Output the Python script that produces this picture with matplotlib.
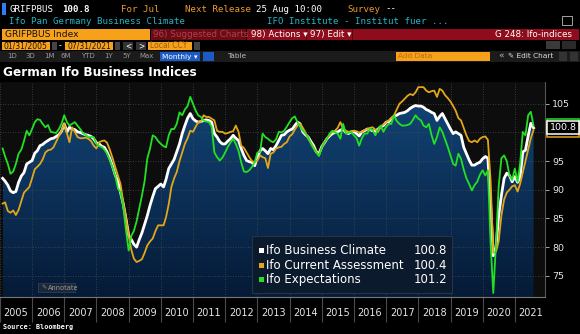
import numpy as np
import pandas as pd
import matplotlib
matplotlib.use("Agg")
import matplotlib.pyplot as plt
import matplotlib.dates as mdates
import matplotlib.transforms as mtransforms
from matplotlib.patches import Rectangle
from matplotlib.colors import LinearSegmentedColormap

# monthly values, Jan 2005 .. Jul 2021
climate = [
    92.0, 91.5, 90.8, 89.8, 89.5, 89.7, 91.3, 92.4, 93.0, 94.5, 94.8, 95.1,
    96.4, 96.8, 97.7, 97.9, 98.3, 98.6, 98.9, 99.0, 99.3, 99.6, 100.2, 101.5,
    100.1, 100.9, 100.6, 100.5, 100.1, 100.0, 99.8, 99.6, 99.5, 99.3, 98.9, 98.2,
    98.0, 97.6, 97.4, 96.6, 95.5, 94.2, 92.6, 91.5, 89.5, 87.5, 85.0, 82.0,
    81.3, 80.5, 80.0, 81.3, 82.5, 84.0, 85.5, 87.3, 88.8, 90.2, 90.6, 91.0,
    90.5, 91.8, 93.7, 94.5, 95.3, 96.6, 98.0, 99.8, 101.2, 102.5, 103.3, 102.4,
    102.0, 101.8, 101.9, 102.1, 102.2, 102.1, 101.8, 99.8, 99.2, 98.4, 98.0, 98.0,
    98.5, 98.9, 99.5, 99.0, 98.6, 97.2, 96.0, 95.1, 94.9, 94.8, 94.2, 95.7,
    96.8, 97.2, 96.8, 96.3, 97.2, 97.0, 97.7, 98.6, 99.5, 99.6, 100.1, 100.4,
    100.6, 101.2, 101.8, 101.5, 100.1, 99.6, 99.2, 98.4, 97.7, 96.6, 96.3, 97.5,
    98.2, 98.9, 99.4, 99.8, 100.0, 100.1, 100.4, 100.6, 100.0, 99.8, 100.1, 100.2,
    99.8, 99.4, 100.1, 100.3, 100.6, 100.5, 100.3, 100.2, 100.6, 101.0, 101.2, 101.8,
    101.9, 102.4, 102.8, 103.0, 103.3, 103.4, 103.5, 103.8, 104.2, 104.5, 104.7, 104.6,
    104.6, 104.4, 104.0, 103.8, 103.5, 103.3, 102.1, 102.8, 103.3, 102.4, 101.5, 100.6,
    99.8, 100.1, 99.8, 99.5, 97.4, 96.3, 95.2, 94.3, 94.3, 94.6, 94.8, 95.4,
    95.8, 95.5, 87.5, 78.5, 80.0, 85.5, 89.0, 92.0, 92.9, 92.5, 91.4, 92.3,
    91.3, 92.2, 96.6, 96.9, 99.4, 101.6, 100.8,
]
current = [
    87.6, 87.8, 86.3, 86.0, 86.4, 85.6, 86.5, 88.0, 89.5, 90.0, 90.5, 92.0,
    93.6, 94.0, 94.5, 95.3, 96.5, 96.9, 97.0, 97.4, 98.4, 99.4, 100.3, 101.5,
    99.8, 98.3, 100.9, 100.1, 99.2, 99.0, 99.0, 99.1, 98.9, 98.5, 97.7, 97.2,
    98.3, 98.5, 98.6, 98.2, 97.0, 95.6, 94.0, 92.5, 91.0, 87.8, 85.2, 82.0,
    79.5, 78.0, 77.4, 77.6, 77.9, 79.0, 80.3, 81.0, 81.5, 82.8, 83.8, 83.8,
    83.8, 85.2, 87.5, 90.5, 92.0, 93.1, 95.0, 96.5, 98.0, 99.0, 100.3, 100.1,
    101.0, 101.8, 101.8, 103.0, 102.7, 102.7, 102.4, 102.1, 100.3, 100.1, 100.1, 99.8,
    99.9, 100.1, 100.2, 101.2, 100.1, 97.7, 97.3, 96.5, 95.7, 95.0, 94.8, 95.1,
    96.0, 95.7, 95.5, 93.8, 96.3, 96.5, 97.2, 97.4, 97.5, 98.0, 98.3, 99.3,
    99.7, 100.5, 101.2, 101.5, 100.8, 100.0, 98.9, 98.2, 97.4, 96.6, 96.0, 97.3,
    98.3, 99.0, 99.5, 100.1, 100.3, 100.8, 101.8, 100.6, 100.3, 100.1, 100.2, 100.3,
    100.2, 100.0, 100.1, 100.4, 100.6, 100.8, 100.9, 100.5, 100.1, 101.0, 101.4, 101.8,
    102.1, 102.5, 103.0, 104.0, 105.0, 105.4, 105.9, 106.4, 106.7, 106.5, 107.0, 107.9,
    107.9, 107.9, 107.3, 107.0, 107.2, 107.3, 106.2, 107.6, 107.3, 106.5, 106.0, 105.4,
    104.6, 103.8, 102.5, 102.1, 100.8, 99.5, 98.5, 98.3, 98.6, 98.3, 98.9, 99.2,
    99.3, 98.7, 91.5, 79.0, 79.2, 81.0, 85.5, 88.3, 89.5, 90.0, 90.6, 90.8,
    89.7, 91.0, 93.0, 95.0, 97.0, 99.0, 100.4,
]
expectations = [
    97.2, 95.8, 94.5, 92.8, 93.2, 94.5, 96.3, 97.0, 98.5, 100.3, 99.5, 100.6,
    101.8, 102.3, 102.2, 101.5, 100.9, 101.3, 100.1, 100.0, 99.9, 100.6, 101.5, 103.0,
    101.8, 101.2, 101.5, 101.8, 101.2, 100.6, 99.9, 99.6, 99.2, 99.2, 99.2, 98.0,
    97.6, 97.5, 97.0, 96.3, 95.2, 94.0, 92.5, 90.2, 89.6, 87.0, 83.0, 79.4,
    82.0, 82.8, 84.5, 86.7, 89.0, 91.5, 95.5, 97.2, 99.5, 99.2, 98.5, 98.0,
    97.6, 97.4, 99.5, 100.6, 100.6, 101.5, 103.5, 103.0, 104.0, 104.6, 106.2, 105.0,
    103.8, 103.0, 102.7, 102.1, 101.9, 101.8, 101.0, 96.5, 95.7, 95.1, 95.6, 96.5,
    97.5, 98.2, 98.9, 98.0, 96.8, 94.8, 93.2, 93.1, 93.4, 94.0, 94.8, 96.5,
    96.6, 99.8, 99.2, 98.9, 98.5, 98.3, 98.8, 100.1, 100.0, 100.3, 101.0, 101.8,
    102.5, 102.8, 101.8, 101.0, 100.3, 99.8, 99.2, 98.0, 97.2, 96.5, 95.9, 97.4,
    98.2, 98.9, 99.8, 100.3, 100.0, 99.8, 98.9, 101.5, 99.8, 99.9, 100.1, 99.5,
    99.0, 97.7, 99.0, 99.8, 99.8, 100.6, 100.4, 99.5, 100.5, 101.2, 100.1, 101.0,
    101.5, 101.5, 103.0, 102.0, 101.5, 101.2, 101.2, 101.3, 101.5, 102.2, 103.0, 102.4,
    102.1, 101.2, 100.9, 101.5, 99.5, 98.0, 99.2, 100.9, 100.1, 98.8, 97.5, 96.0,
    94.5, 94.2, 96.3, 95.4, 93.5, 92.0, 91.0, 89.9, 90.8, 91.4, 92.6, 93.4,
    92.5, 93.4, 80.5, 72.0, 80.5, 90.5, 95.5, 96.0, 95.0, 92.5, 91.7, 93.7,
    91.4, 94.5, 100.1, 99.5, 103.0, 103.6, 101.2,
]

series_names = ["Ifo Business Climate", "Ifo Current Assessment", "Ifo Expectations"]
series_colors = ["#ffffff", "#e2a619", "#22e022"]
y_ticks = [75, 80, 85, 90, 95, 100, 105]

dates = pd.date_range("2005-01-31", periods=len(climate), freq="ME")

W, H = 580, 334
fig = plt.figure(figsize=(W / 100, H / 100), dpi=100, facecolor="black")


def fx(px):
    return px / W


def fy(py):
    return 1 - py / H


def box(x0, y0, x1, y1, color, ec="none", lw=0.6):
    fig.add_artist(Rectangle((fx(x0), fy(y1)), (x1 - x0) / W, (y1 - y0) / H,
                             transform=fig.transFigure, facecolor=color,
                             edgecolor=ec, lw=lw))


def txt(x, y, s, color="white", size=6.5, ha="left", weight="normal", family="DejaVu Sans"):
    fig.text(fx(x), fy(y), s, color=color, fontsize=size, ha=ha, va="center",
             fontweight=weight, family=family)


mono = "DejaVu Sans Mono"
amber = "#eb9a2e"
cyan = "#25b6c8"
orange = "#f7a11a"

# --- terminal header ---
box(2, 3, 6, 15, "#2f7df6")
txt(10, 9, "GRIFPBUS", "white", 6.6, family=mono)
txt(62, 9, "100.8", "white", 6.6, weight="bold", family=mono)
txt(121, 9, "For Jul", amber, 6.6, family=mono)
txt(185, 9, "Next Release", amber, 6.6, family=mono)
txt(256, 9, "25 Aug 10:00", "white", 6.6, family=mono)
txt(347, 9, "Survey", amber, 6.6, family=mono)
txt(385, 9, "--", "white", 6.6, family=mono)

txt(9, 22, "Ifo Pan Germany Business Climate", cyan, 6.6, family=mono)
txt(267, 22, "IFO Institute - Institut fuer ...", cyan, 6.6, family=mono)
box(562, 16, 572, 25, "none", ec="#bbbbbb", lw=0.6)

box(2, 29, 150, 40, orange)
txt(5, 34.5, "GRIFPBUS Index", "#111111", 6.6)
box(151, 29, 246, 40, "#6a0b15")
txt(153, 34.5, "96) Suggested Charts", "#b2404c", 6.3)
box(247, 29, 579, 40, "#8f0c1c")
txt(251, 34.5, "98) Actions \u25be", "white", 6.3)
box(306, 29, 307, 40, "#5a0610")
txt(310, 34.5, "97) Edit \u25be", "white", 6.3)
box(352, 29, 353, 40, "#5a0610")
txt(572, 34.5, "G 248: Ifo-indices", "white", 6.3, ha="right")

box(2, 42, 50, 50, orange)
txt(4, 46, "01/31/2005", "#111111", 5.5)
box(52, 42, 57, 50, "#444444")
txt(59, 46, "-", "white", 5.5)
box(65, 42, 113, 50, orange)
txt(67, 46, "07/31/2021", "#111111", 5.5)
box(115, 42, 120, 50, "#444444")
box(123, 42, 133, 50, "#333333")
txt(128, 46, "<", "white", 5.5, ha="center")
box(136, 42, 146, 50, "#333333")
txt(141, 46, ">", "white", 5.5, ha="center")
box(148, 42, 192, 50, orange)
txt(150, 46, "Local CCY", "#9a5a10", 5.5)
box(194, 42, 200, 50, "#444444")
box(546, 41, 560, 49, "#3a3a3a")
box(562, 41, 576, 49, "#2a2a2a")

box(0, 51.5, 580, 61.5, "#1b1b1b")
for xp, lab in [(11.7, "1D"), (30, "3D"), (49, "1M"), (65.7, "6M"), (88, "YTD"),
                (109, "1Y"), (126.7, "5Y"), (146.7, "Max")]:
    txt(xp, 56.5, lab, "#9a9a9a", 5.0, ha="center")
box(160, 52, 200, 61, "#1d5bc4")
txt(180, 56.5, "Monthly \u25be", "white", 5.3, ha="center")
box(203, 52, 214, 61, "#1d5bc4")
txt(237, 56.5, "Table", "#bbbbbb", 5.3, ha="center")
box(396, 52, 490, 61, orange)
txt(398, 56.5, "Add Data", "#b86d12", 5.3)
txt(498, 56.5, "\u00ab", "#bbbbbb", 6.5)
txt(508, 56.5, "\u270e Edit Chart", "#dddddd", 5.3)
box(559, 52, 567, 61, "#333333")
box(570, 52, 578, 61, "#333333")

txt(3, 72, "German Ifo Business Indices", "white", 8.7, weight="bold")

# --- chart ---
ax = fig.add_axes([0, fy(297), 545 / W, (297 - 82) / H])
ax.set_facecolor("#0d0d0d")
ylo, yhi = 71.3, 108.8
x0 = pd.Timestamp("2005-01-01")
x1 = pd.Timestamp("2021-12-08")

poly = ax.fill_between(dates, climate, ylo, facecolor="none", edgecolor="none")
xd = mdates.date2num(dates)
grad = np.linspace(0, 1, 256).reshape(-1, 1)
cmap = LinearSegmentedColormap.from_list("bbfill", ["#051a36", "#124476"])
im = ax.imshow(grad, extent=[xd[0], xd[-1], ylo, 106], aspect="auto",
               cmap=cmap, origin="lower", zorder=0.5)
im.set_clip_path(poly.get_paths()[0], transform=ax.transData)

ax.plot(dates, climate, color=series_colors[0], lw=2.0, zorder=3)
ax.plot(dates, current, color=series_colors[1], lw=1.3, zorder=4)
ax.plot(dates, expectations, color=series_colors[2], lw=1.3, zorder=5)

ax.set_xlim(x0, x1)
ax.set_ylim(ylo, yhi)

ax.xaxis.set_major_locator(mdates.YearLocator())
ax.xaxis.set_major_formatter(plt.NullFormatter())
ax.xaxis.set_minor_locator(mdates.MonthLocator(bymonth=7, bymonthday=1))
ax.xaxis.set_minor_formatter(mdates.DateFormatter("%Y"))
ax.tick_params(axis="x", which="major", length=18, width=0.8, color="#4a4a4a")
ax.tick_params(axis="x", which="minor", length=0, pad=8, labelsize=7,
               labelcolor="#e6e6e6")

ax.yaxis.tick_right()
ax.set_yticks(y_ticks)
ax.set_yticklabels(["" if v == 100 else str(v) for v in y_ticks])
ax.tick_params(axis="y", length=3, width=0.7, color="#aaaaaa", pad=2,
               labelsize=6.8, labelcolor="#e6e6e6")

ax.grid(True, which="major", color="#4a4a4a", lw=0.6, ls=(0, (1, 2)))
for side in ["top", "left"]:
    ax.spines[side].set_visible(False)
ax.spines["right"].set_color("#555555")
ax.spines["bottom"].set_color("#777777")
ax.spines["right"].set_linewidth(0.8)
ax.spines["bottom"].set_linewidth(0.8)

# last-value tags on the right axis
trans = mtransforms.blended_transform_factory(ax.transAxes, ax.transData)
last = [climate[-1], current[-1], expectations[-1]]
tag_h = 2.3
for i in [2, 1, 0]:
    ax.add_patch(Rectangle((1.004, last[i] - tag_h / 2), 0.058, tag_h,
                           transform=trans, facecolor="black",
                           edgecolor=series_colors[i], lw=1.1,
                           clip_on=False, zorder=10 - i))
ax.text(1.033, last[0], f"{last[0]:.1f}", transform=trans, color="white",
        fontsize=6.8, va="center", ha="center", clip_on=False, zorder=12)

# legend box
box(252, 236, 452, 293, "#0b1a2d", ec="#22334a", lw=0.8)
for i, name in enumerate(series_names):
    yy = 250.5 + i * 14.7
    box(259, yy - 2.6, 264, yy + 2.4, series_colors[i])
    txt(266, yy, name, "white", 8.5)
    txt(447, yy, f"{last[i]:.1f}", "white", 8.5, ha="right")

# annotate button
box(38, 283, 75, 292, "#1a2738", ec="#2e3e52", lw=0.6)
txt(41, 287.5, "\u270e", "#888888", 4.5)
txt(48, 287.5, "Annotate", "#9a9a9a", 4.8)

txt(3, 327, "Source: Bloomberg", "white", 4.9, weight="bold", family=mono)

fig.savefig("out.png", dpi=100, facecolor="black")
